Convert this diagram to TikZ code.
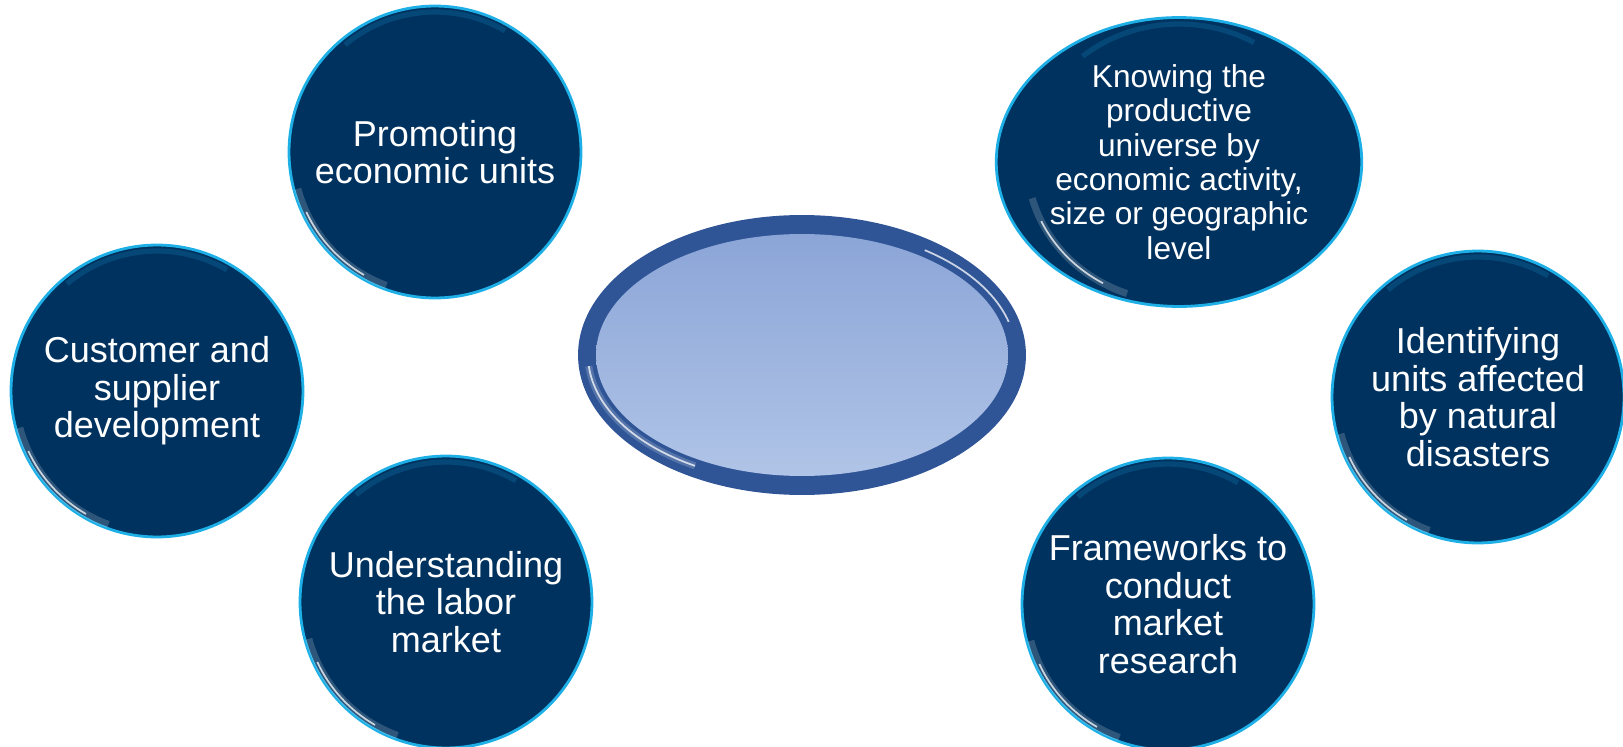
\documentclass[tikz,border=0pt]{standalone}
\usepackage{fontspec}
\setmainfont{Liberation Sans}
\usetikzlibrary{shapes.geometric}
\definecolor{navy}{RGB}{0,50,95}
\definecolor{rim}{RGB}{30,175,230}
\definecolor{ring}{RGB}{47,85,151}
\definecolor{facetop}{RGB}{139,165,215}
\definecolor{facebot}{RGB}{176,196,231}

\begin{document}
\begin{tikzpicture}[
x=0.02cm, y=0.02cm,
Bubble/.style={circle,fill=navy,draw=rim,line width=1.6pt,minimum size=5.84cm,inner sep=0pt,
  text=white,align=center,font=\fontsize{20.5}{21.4}\selectfont},
Gloss/.style={white,line width=1pt,opacity=0.75},
Glow/.style={white,line width=4pt,opacity=0.18},
Hub/.style={ellipse,fill=ring,minimum width=8.96cm,minimum height=5.6cm,inner sep=0pt},
HubFace/.style={ellipse,top color=facetop,bottom color=facebot,minimum width=8.24cm,minimum height=4.84cm,inner sep=0pt}
]
\useasboundingbox (0,0) rectangle (1623,-747);

% centre
\node[Hub] (H) at (802,-355) {};
\node[HubFace] (Hf) at (H.center) {};
\draw[Gloss] (H.center) ++(185:{214} and {128}) arc[start angle=185, end angle=240, x radius=214, y radius=128];
\draw[Glow] (H.center) ++(185:{214} and {128}) arc[start angle=185, end angle=240, x radius=214, y radius=128];
\draw[Gloss] (H.center) ++(15:{214} and {128}) arc[start angle=15, end angle=55, x radius=214, y radius=128];

% bubbles
\node[Bubble] (P) at (435,-152) {Promoting\\economic units};
\node[Bubble] (C) at (157,-391) {Customer and\\supplier\\development};
\node[Bubble] (U) at (446,-602) {Understanding\\the labor\\market};
\node[Bubble,ellipse,minimum width=6.24cm,minimum height=5.78cm,font=\fontsize{18}{19.6}\selectfont]
  (K) at (1179,-162) {Knowing the\\productive\\universe by\\economic activity,\\size or geographic\\level};
\node[Bubble] (I) at (1478,-397) {Identifying\\units affected\\by natural\\disasters};
\node[Bubble] (F) at (1168,-604) {Frameworks to\\conduct\\market\\research};

\foreach \n/\rx/\ry in {P/142/142,C/142/142,U/142/142,K/152/140,I/142/142,F/142/142}{
  \draw[Glow] (\n.center) ++(195:{\rx} and {\ry}) arc[start angle=195, end angle=250, x radius=\rx, y radius=\ry];
  \draw[Gloss] (\n.center) ++(205:{\rx} and {\ry}) arc[start angle=205, end angle=240, x radius=\rx, y radius=\ry];
  \draw[rim,line width=3pt,opacity=0.18] (\n.center) ++(60:{\rx-2} and {\ry-2}) arc[start angle=60, end angle=130, x radius=\rx-2, y radius=\ry-2];
}
\end{tikzpicture}
\end{document}
